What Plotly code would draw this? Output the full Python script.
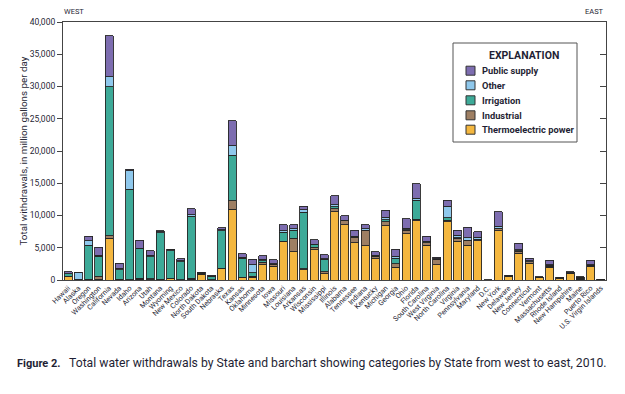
import plotly.graph_objects as go

states = ["Hawaii", "Alaska", "Oregon", "Washington", "California", "Nevada", "Idaho",
          "Arizona", "Utah", "Montana", "Wyoming", "New Mexico", "Colorado", "North Dakota",
          "South Dakota", "Nebraska", "Texas", "Kansas", "Oklahoma", "Minnesota", "Iowa",
          "Missouri", "Louisiana", "Arkansas", "Wisconsin", "Mississippi", "Illinois",
          "Alabama", "Tennessee", "Indiana", "Kentucky", "Michigan", "Georgia", "Ohio",
          "Florida", "South Carolina", "West Virginia", "North Carolina", "Virginia",
          "Pennsylvania", "Maryland", "D.C.", "New York", "Delaware", "New Jersey",
          "Connecticut", "Vermont", "Massachusetts", "Rhode Island", "New Hampshire",
          "Maine", "Puerto Rico", "U.S. Virgin Islands"]

thermoelectric = [550, 50, 50, 100, 6500, 50, 0, 100, 50, 100, 200, 50, 100, 850, 50, 1800,
                  11000, 350, 400, 2350, 2150, 5900, 4400, 1600, 4700, 950, 10600, 8600,
                  5800, 5300, 3300, 8400, 2000, 7150, 9150, 5400, 2350, 9000, 6000, 5350,
                  6100, 0, 7650, 500, 4150, 2600, 350, 2000, 300, 1000, 100, 2150, 100]
industrial = [50, 50, 100, 500, 400, 50, 50, 150, 150, 50, 50, 20, 150, 50, 20, 60,
              1300, 100, 150, 400, 250, 100, 2050, 150, 350, 350, 450, 550,
              850, 2300, 350, 650, 550, 550, 300, 350, 850, 300, 450, 750,
              200, 0, 300, 50, 300, 200, 50, 150, 20, 50, 200, 50, 0]
irrigation = [350, 0, 5200, 3050, 23100, 1500, 14050, 4600, 3400, 7200, 4300, 2750, 9600,
              150, 450, 5800, 7050, 2950, 550, 200, 50, 1400, 1250, 8750, 400, 1950, 300,
              100, 50, 100, 50, 300, 850, 100, 2950, 150, 0, 350, 100, 50, 50, 0, 50, 100,
              100, 50, 20, 100, 20, 20, 20, 100, 0]
other = [50, 1000, 770, 200, 1550, 250, 2850, 100, 200, 150, 150, 150, 300, 100, 100, 150,
         1450, 150, 1300, 250, 50, 260, 260, 400, 100, 50, 300, 50, 50, 250, 100, 350,
         250, 250, 300, 100, 100, 1750, 400, 400, 250, 0, 350, 20, 150, 150, 30, 100, 20,
         50, 100, 50, 0]
public_supply = [300, 80, 670, 1200, 6300, 750, 250, 1250, 700, 150, 100, 300, 900, 70, 100,
                 300, 3900, 500, 800, 550, 650, 920, 600, 500, 680, 650, 1450, 650, 950,
                 650, 550, 1100, 1150, 1450, 2250, 750, 250, 1000, 750, 1600, 850, 50,
                 2250, 100, 1000, 400, 50, 750, 100, 150, 100, 750, 20]

series = [
    ("Thermoelectric power", thermoelectric, "#f4b73f"),
    ("Industrial", industrial, "#9e7f63"),
    ("Irrigation", irrigation, "#3daa98"),
    ("Other", other, "#8fc8ec"),
    ("Public supply", public_supply, "#7d6db0"),
]
legend_title = "EXPLANATION"

FONT = "Roboto, Liberation Sans, sans-serif"
INK = "#1f1f35"
W, H = 625, 394
ML, MR, MT, MB = 63, 19, 22, 114
PW, PH = W - ML - MR, H - MT - MB


def px(x):
    return (x - ML) / PW


def py(y):
    return (H - MB - y) / PH


fig = go.Figure()
for name, vals, col in series:
    fig.add_trace(go.Bar(
        x=states, y=vals, name=name,
        marker=dict(color=col, line=dict(color="#262626", width=0.9)),
    ))

# helper trace so the right-hand tick axis is drawn
fig.add_trace(go.Scatter(x=[states[0]], y=[0], yaxis="y2", mode="markers",
                         marker=dict(opacity=0), showlegend=False, hoverinfo="skip"))

shapes = [dict(type="rect", xref="paper", yref="paper",
               x0=px(453), x1=px(577), y0=py(142), y1=py(43),
               line=dict(color="#555555", width=1), fillcolor="white", layer="above")]
annotations = [dict(text="<b>" + legend_title + "</b>", xref="paper", yref="paper",
                    x=px(524), y=py(55.5), xanchor="center", yanchor="middle",
                    showarrow=False, font=dict(family=FONT, size=10.5, color=INK))]
item_y = [70.7, 85.3, 100.3, 115.3, 129.7]
for (name, vals, col), yc in zip(reversed(series), item_y):
    shapes.append(dict(type="rect", xref="paper", yref="paper",
                       x0=px(466), x1=px(475), y0=py(yc + 4.5), y1=py(yc - 4.5),
                       line=dict(color="#333333", width=1), fillcolor=col, layer="above"))
    annotations.append(dict(text="<b>" + name + "</b>", xref="paper", yref="paper",
                            x=px(480), y=py(yc), xanchor="left", yanchor="middle",
                            showarrow=False, font=dict(family=FONT, size=9.3, color=INK)))

annotations += [
    dict(text="Total withdrawals, in million gallons per day", textangle=-90,
         xref="paper", yref="paper", x=px(22.5), y=0.5,
         xanchor="center", yanchor="middle", showarrow=False,
         font=dict(family=FONT, size=9.8, color=INK)),
    dict(text="WEST", xref="paper", yref="paper", x=px(61.5), y=py(11.5),
         xanchor="left", yanchor="middle", showarrow=False,
         font=dict(family=FONT, size=7.5, color=INK)),
    dict(text="EAST", xref="paper", yref="paper", x=px(606), y=py(11.5),
         xanchor="right", yanchor="middle", showarrow=False,
         font=dict(family=FONT, size=7.5, color=INK)),
    dict(text="<b>Figure 2.</b>", xref="paper", yref="paper",
         x=px(15), y=py(363), xanchor="left", yanchor="middle", showarrow=False,
         font=dict(family=FONT, size=11, color=INK)),
    dict(text="Total water withdrawals by State and barchart showing categories by State from west to east, 2010.",
         xref="paper", yref="paper", x=px(67), y=py(363),
         xanchor="left", yanchor="middle", showarrow=False,
         font=dict(family=FONT, size=12.2, color=INK)),
]

fig.update_layout(
    width=W, height=H,
    margin=dict(l=ML, r=MR, t=MT, b=MB, autoexpand=False),
    barmode="stack", bargap=0.22,
    paper_bgcolor="white", plot_bgcolor="white",
    font=dict(family=FONT, color=INK, size=9),
    showlegend=False,
    xaxis=dict(
        type="category", range=[-0.5, 52.5], automargin=False,
        tickangle=-45, ticks="", showgrid=False,
        tickfont=dict(family=FONT, size=7.2, color=INK),
        showline=True, linecolor="#444444", linewidth=1.2, mirror=True,
    ),
    yaxis=dict(
        range=[0, 40000], automargin=False,
        tickvals=[0, 5000, 10000, 15000, 20000, 25000, 30000, 35000, 40000],
        tickformat=",", ticks="outside", ticklen=5, tickcolor="#444444", tickwidth=1,
        showgrid=False, zeroline=False,
        tickfont=dict(family=FONT, size=8.5, color=INK),
        showline=True, linecolor="#444444", linewidth=1.2, mirror=True,
    ),
    yaxis2=dict(
        overlaying="y", side="right", range=[0, 40000],
        tickvals=[5000, 10000, 15000, 20000, 25000, 30000, 35000],
        ticks="inside", ticklen=6, tickcolor="#444444", tickwidth=1,
        showticklabels=False, showgrid=False, zeroline=False, showline=False,
    ),
    shapes=shapes,
    annotations=annotations,
)

fig.write_html("out.html", config={"displayModeBar": False},
               post_script="document.body.style.margin='0';")
